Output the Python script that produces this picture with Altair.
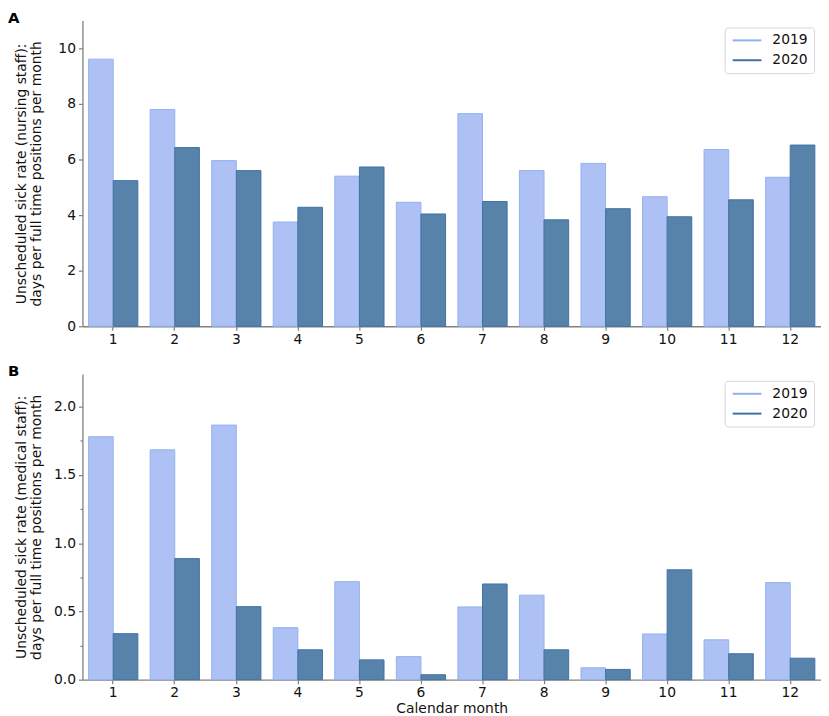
import altair as alt
import pandas as pd

months = list(range(1, 13))
years = ["2019", "2020"]

nursing_2019 = [9.61, 7.80, 5.96, 3.75, 5.40, 4.46, 7.65, 5.60, 5.86, 4.66, 6.36, 5.36]
nursing_2020 = [5.24, 6.43, 5.60, 4.28, 5.73, 4.04, 4.49, 3.83, 4.23, 3.94, 4.55, 6.52]
medical_2019 = [1.78, 1.684, 1.865, 0.381, 0.718, 0.169, 0.533, 0.619, 0.087, 0.335, 0.292, 0.711]
medical_2020 = [0.337, 0.887, 0.535, 0.219, 0.145, 0.036, 0.701, 0.219, 0.075, 0.805, 0.19, 0.157]

nursing_ticks = [0, 2, 4, 6, 8, 10]
medical_ticks = [0.0, 0.5, 1.0, 1.5, 2.0]
medical_minor = [0.25, 0.75, 1.25, 1.75]

FONT = "DejaVu Sans"
FS = 14
fill_colors = ["#adc1f4", "#5783ab"]
edge_colors = ["#93b1f0", "#3f72a4"]
AXIS_GRAY = "#808080"


def long_df(v19, v20):
    rows = []
    for m, a, b in zip(months, v19, v20):
        rows.append({"month": m, "year": "2019", "value": a})
        rows.append({"month": m, "year": "2020", "value": b})
    return pd.DataFrame(rows)


def make_legend():
    return alt.Legend(
        title=None, orient="top-right", offset=7,
        symbolType="M-1,0H4.8", symbolSize=100, symbolStrokeWidth=2,
        labelFont=FONT, labelFontSize=FS, labelColor="#111", labelOffset=28,
        padding=6, rowPadding=6, strokeColor="#d6d6d6", fillColor="white",
        cornerRadius=3,
    )


def panel(df, letter, title_lines, ymax, yticks, yfmt, minor=None, xtitle=None):
    yscale = alt.Scale(domain=[0, ymax], nice=False, zero=True)
    bars = alt.Chart(df).mark_bar(strokeWidth=1).encode(
        x=alt.X(
            "month:O",
            scale=alt.Scale(paddingInner=0.2, paddingOuter=0.1),
            axis=alt.Axis(title=xtitle, labelAngle=0, tickSize=4, labelPadding=2,
                          titlePadding=2),
        ),
        xOffset=alt.XOffset("year:N", sort=years),
        y=alt.Y(
            "value:Q", scale=yscale,
            axis=alt.Axis(title=title_lines, values=yticks, format=yfmt, tickSize=4,
                          labelPadding=3, titleX=-54, titleLineHeight=15),
        ),
        fill=alt.Fill("year:N", scale=alt.Scale(domain=years, range=fill_colors),
                      legend=make_legend()),
        stroke=alt.Stroke("year:N", scale=alt.Scale(domain=years, range=edge_colors),
                          legend=make_legend()),
    )
    label = alt.Chart(pd.DataFrame({"t": [letter]})).mark_text(
        font=FONT, fontSize=15, fontWeight="bold", align="left",
        baseline="alphabetic", color="black",
    ).encode(text="t:N", x=alt.value(-75), y=alt.value(2))

    layers = [bars]
    if minor is not None:
        minor_layer = alt.Chart(df).mark_point(opacity=0).encode(
            y=alt.Y("value:Q", scale=yscale,
                    axis=alt.Axis(orient="left", values=minor, labels=False, domain=False,
                                  tickSize=2.5, title=None, grid=False)),
        )
        layers.append(minor_layer)
    layers.append(label)
    chart = alt.layer(*layers).properties(width=744, height=308)
    if minor is not None:
        chart = chart.resolve_axis(y="independent")
    return chart


panel_a = panel(
    long_df(nursing_2019, nursing_2020), "A",
    ["Unscheduled sick rate (nursing staff):", "days per full time positions per month"],
    11.0, nursing_ticks, "d",
)
panel_b = panel(
    long_df(medical_2019, medical_2020), "B",
    ["Unscheduled sick rate (medical staff):", "days per full time positions per month"],
    2.24, medical_ticks, ".1f", minor=medical_minor, xtitle="Calendar month",
)

chart = alt.vconcat(panel_a, panel_b, spacing=48, bounds="flush").resolve_legend(
    fill="independent", stroke="independent"
).properties(padding=0).configure_view(stroke=None).configure_axis(
    grid=False, domainColor=AXIS_GRAY, domainWidth=1.3, tickColor=AXIS_GRAY,
    tickWidth=1.2, labelColor="#111", labelFont=FONT, labelFontSize=FS,
    titleFont=FONT, titleFontSize=FS, titleFontWeight="normal", titleColor="#111",
)

chart.save("out.html", embed_options={"renderer": "svg", "actions": False})
